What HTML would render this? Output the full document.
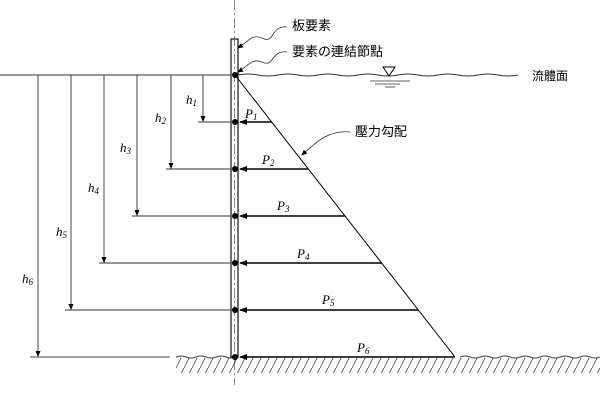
<!DOCTYPE html>
<html><head><meta charset="utf-8"><style>body{margin:0;background:#fff}svg{display:block}</style></head>
<body><svg width="600" height="400" viewBox="0 0 600 400" xmlns="http://www.w3.org/2000/svg" font-family="Liberation Serif, serif">
<defs><marker id="a" markerWidth="8" markerHeight="6" refX="7" refY="3" orient="auto" markerUnits="userSpaceOnUse"><path d="M0,0L8,3L0,6z" fill="#000"/></marker>
<marker id="s" markerWidth="6" markerHeight="6" refX="5" refY="3" orient="auto" markerUnits="userSpaceOnUse"><path d="M0,0.5L6,3L0,5.5z" fill="#000"/></marker>
<pattern id="h" width="8" height="16" patternUnits="userSpaceOnUse"><path d="M8,0L0,16" stroke="#444" stroke-width="0.8"/></pattern></defs>
<!-- surface -->
<line x1="0" y1="75" x2="231" y2="75" stroke="#333" stroke-width="1"/>
<path d="M238,75 q10,-2 20,0 t20,0 t20,0 t20,0 t20,0 t20,0 t20,0 t20,0 t20,0 t20,0 t20,0 t20,0 t20,0 t20,0" fill="none" stroke="#333"/>
<line x1="370" y1="81" x2="410" y2="81" stroke="#666"/><line x1="375" y1="84" x2="400" y2="84" stroke="#666"/><line x1="385" y1="87" x2="395" y2="87" stroke="#666"/>
<path d="M383,67L395,67L389,76z" fill="none" stroke="#000"/>
<text x="532" y="80" font-family="Liberation Sans, Noto Sans CJK TC, sans-serif" font-size="12">流體面</text>
<!-- ground -->
<rect x="176" y="358" width="424" height="15" fill="url(#h)"/>
<path d="M176,357 q5,-2 10,0 t10,0 t10,0 t10,0 t10,0 t10,0 M460,357 q5,-2 10,0 t10,0 t10,0 t10,0 t10,0 t10,0 t10,0 t10,0 t10,0 t10,0 t10,0 t10,0 t10,0 t10,0" fill="none" stroke="#444"/>
<line x1="30" y1="357" x2="170" y2="357" stroke="#444"/>
<!-- wall -->
<rect x="231" y="39" width="7" height="318" fill="#fff" stroke="#222" stroke-width="1.3"/>
<line x1="234.5" y1="0" x2="234.5" y2="385" stroke="#555" stroke-width="0.7" stroke-dasharray="10,3,2,3"/>
<!-- triangle -->
<line x1="235" y1="75" x2="455" y2="357" stroke="#000"/>
<g stroke="#000" stroke-width="1.6" marker-end="url(#a)">
<line x1="272" y1="122" x2="240" y2="122"/><line x1="308" y1="169" x2="240" y2="169"/><line x1="345" y1="216" x2="240" y2="216"/><line x1="382" y1="263" x2="240" y2="263"/><line x1="418" y1="310" x2="240" y2="310"/><line x1="455" y1="357" x2="240" y2="357"/></g>
<g fill="#000"><circle cx="235" cy="75" r="3"/><circle cx="235" cy="122" r="3"/><circle cx="235" cy="169" r="3"/><circle cx="235" cy="216" r="3"/><circle cx="235" cy="263" r="3"/><circle cx="235" cy="310" r="3"/><circle cx="235" cy="357" r="3"/></g>
<!-- h dims -->
<g stroke="#333" stroke-width="0.9" fill="none">
<line x1="198" y1="122" x2="231" y2="122"/><line x1="166" y1="169" x2="231" y2="169"/><line x1="132" y1="216" x2="231" y2="216"/><line x1="99" y1="263" x2="231" y2="263"/><line x1="65" y1="310" x2="231" y2="310"/>
<line x1="203" y1="75" x2="203" y2="121" marker-end="url(#s)"/><line x1="171" y1="75" x2="171" y2="168" marker-end="url(#s)"/><line x1="137" y1="75" x2="137" y2="215" marker-end="url(#s)"/><line x1="104" y1="75" x2="104" y2="262" marker-end="url(#s)"/><line x1="71" y1="75" x2="71" y2="309" marker-end="url(#s)"/><line x1="38" y1="75" x2="38" y2="356" marker-end="url(#s)"/></g>
<g font-style="italic" font-size="13">
<text x="186" y="104">h<tspan font-size="9" dy="2">1</tspan></text><text x="155" y="122">h<tspan font-size="9" dy="2">2</tspan></text><text x="120" y="152">h<tspan font-size="9" dy="2">3</tspan></text><text x="88" y="192">h<tspan font-size="9" dy="2">4</tspan></text><text x="56" y="236">h<tspan font-size="9" dy="2">5</tspan></text><text x="22" y="283">h<tspan font-size="9" dy="2">6</tspan></text>
<text x="245" y="118">P<tspan font-size="9" dy="2">1</tspan></text><text x="262" y="164">P<tspan font-size="9" dy="2">2</tspan></text><text x="277" y="210">P<tspan font-size="9" dy="2">3</tspan></text><text x="297" y="258">P<tspan font-size="9" dy="2">4</tspan></text><text x="322" y="304">P<tspan font-size="9" dy="2">5</tspan></text><text x="357" y="352">P<tspan font-size="9" dy="2">6</tspan></text></g>
<!-- labels -->
<g font-family="Liberation Sans, Noto Sans CJK TC, sans-serif" font-size="13">
<text x="292" y="30">板要素</text><text x="292" y="56">要素の連結節點</text><text x="355" y="136">壓力勾配</text></g>
<g fill="none" stroke="#333" stroke-width="0.8">
<path d="M287,27 C270,25 275,45 262,38 C252,34 250,40 238,48" marker-end="url(#s)"/>
<path d="M287,52 C270,50 275,68 262,62 C252,58 248,66 238,72" marker-end="url(#s)"/>
<path d="M350,132 C330,130 318,140 302,155" marker-end="url(#s)"/></g>
</svg></body></html>
